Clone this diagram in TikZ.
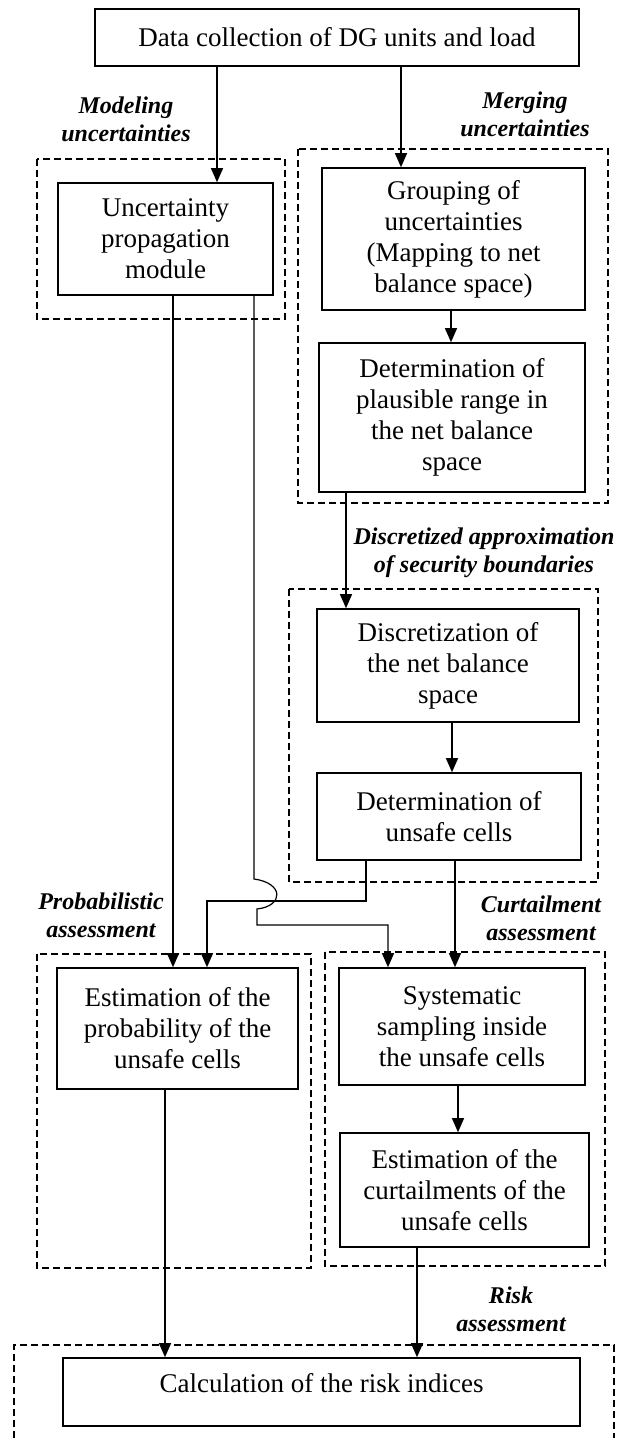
\documentclass[tikz,border=0pt]{standalone}
\usepackage{fontspec}
\setmainfont{Liberation Serif}
\usetikzlibrary{arrows.meta}

\begin{document}
\begin{tikzpicture}[x=1pt, y=-1pt,
        box/.style={draw, line width=1.6pt, align=center, inner sep=0pt, font=\fontsize{27}{31}\selectfont},
        grp/.style={draw, line width=1.3pt, dash pattern=on 7pt off 4pt},
        tag/.style={align=center, inner sep=0pt, font=\fontsize{24}{28}\selectfont\bfseries\itshape},
        link/.style={line width=1.2pt, -{Triangle[length=14pt, width=12pt]}}]
        \useasboundingbox (0,0) rectangle (617,1438);
        \node[box, minimum width=484pt, minimum height=57pt] (data) at (337,37.5) {Data collection of DG units and load};
        \node[box, minimum width=215pt, minimum height=112pt] (uprop) at (165.5,239) {Uncertainty\\propagation\\module};
        \node[box, minimum width=263pt, minimum height=142pt] (group) at (453.5,239) {Grouping of\\uncertainties\\(Mapping to net\\balance space)};
        \node[box, minimum width=266pt, minimum height=149pt] (plaus) at (452,417.5) {Determination of\\plausible range in\\the net balance\\space};
        \node[box, minimum width=262pt, minimum height=113pt] (discr) at (448,665.5) {Discretization of\\the net balance\\space};
        \node[box, minimum width=264pt, minimum height=87pt] (unsafe) at (449,816.5) {Determination of\\unsafe cells};
        \node[box, minimum width=241pt, minimum height=121pt] (probest) at (177.5,1028.5) {Estimation of the\\probability of the\\unsafe cells};
        \node[box, minimum width=246pt, minimum height=117pt] (sampling) at (462,1026.5) {Systematic\\sampling inside\\the unsafe cells};
        \node[box, minimum width=249pt, minimum height=114pt] (curtest) at (464.5,1190) {Estimation of the\\curtailments of the\\unsafe cells};
        \node[box, minimum width=517pt, minimum height=68pt, text height=18pt, text depth=18pt] (calc) at (321.5,1392) {Calculation of the risk indices};

        \node[tag] (tmodel) at (126,119) {Modeling\\uncertainties};
        \node[tag] (tmerge) at (525,114) {Merging\\uncertainties};
        \node[tag] (tdiscr) at (484,553) {Discretized approximation\\of security boundaries};
        \node[tag] (tprob) at (101,915) {Probabilistic\\assessment};
        \node[tag] (tcurt) at (541,918) {Curtailment\\assessment};
        \node[tag] (trisk) at (511,1309) {Risk\\assessment};

        \draw[grp] (37,159) rectangle (285,319);
        \draw[grp] (298,149) rectangle (608,503);
        \draw[grp] (289,589) rectangle (598,882);
        \draw[grp] (37,954) rectangle (311,1268);
        \draw[grp] (325,952) rectangle (605,1266);
        \draw[grp] (14,1438) |- (614,1345) -- (614,1438);

        \draw[link] (217,0 |- data.south) -- (217,0 |- uprop.north);
        \draw[link] (401,0 |- data.south) -- (401,0 |- group.north);
        \draw[link] (451,0 |- group.south) -- (451,0 |- plaus.north);
        \draw[link] (346,0 |- plaus.south) -- (346,0 |- discr.north);
        \draw[link] (452,0 |- discr.south) -- (452,0 |- unsafe.north);
        \draw[link] (173,0 |- uprop.south) -- (173,0 |- probest.north);
        \draw[link] (254,0 |- uprop.south) -- (254,879) .. controls (284,883) and (284,906) .. (257,909) -- (257,925) -| (388,0 |- sampling.north);
        \draw[link] (366,0 |- unsafe.south) |- (207,901) -- (207,0 |- probest.north);
        \draw[link] (455,0 |- unsafe.south) -- (455,0 |- sampling.north);
        \draw[link] (458,0 |- sampling.south) -- (458,0 |- curtest.north);
        \draw[link] (165,0 |- probest.south) -- (165,0 |- calc.north);
        \draw[link] (417,0 |- curtest.south) -- (417,0 |- calc.north);
\end{tikzpicture}
\end{document}
